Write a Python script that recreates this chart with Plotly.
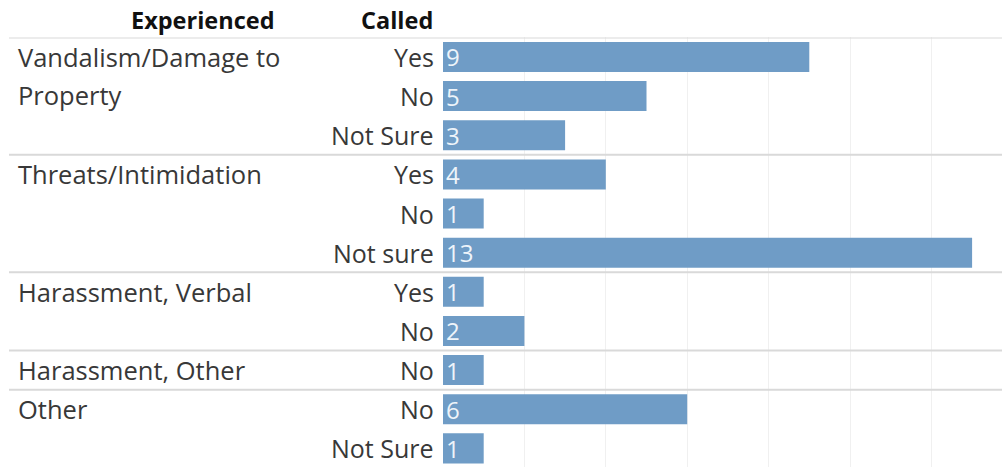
import plotly.graph_objects as go

# Data: counts per "Experienced" category, split by "Called"
experienced = [
    ["Vandalism/Damage to", "Property"],
    ["Threats/Intimidation"],
    ["Harassment, Verbal"],
    ["Harassment, Other"],
    ["Other"],
]
called = [
    ["Yes", "No", "Not Sure"],
    ["Yes", "No", "Not sure"],
    ["Yes", "No"],
    ["No"],
    ["No", "Not Sure"],
]
counts = [
    [9, 5, 3],
    [4, 1, 13],
    [1, 2],
    [1],
    [6, 1],
]

W, H = 1002, 467
PLOT_LEFT = 443
PLOT_TOP = 37.4
ROW_PX = 39.14
UNIT_PX = 40.7

FONT = "Open Sans"
TEXT_COLOR = "#383838"
BAR_COLOR = "#6f9cc6"
LINE_COLOR = "#d9d9d9"

# Flatten into rows
row_y, row_val, row_called = [], [], []
group_starts = []
i = 0
for g, (cl, vals) in enumerate(zip(called, counts)):
    group_starts.append(i)
    for c, v in zip(cl, vals):
        row_y.append(i)
        row_val.append(v)
        row_called.append(c)
        i += 1
n_rows = i

fig = go.Figure()
fig.add_trace(go.Bar(
    x=row_val,
    y=row_y,
    orientation="h",
    width=0.767,
    marker=dict(color=BAR_COLOR, line=dict(width=0)),
    text=[str(v) for v in row_val],
    textposition="inside",
    insidetextanchor="start",
    textangle=0,
    textfont=dict(family=FONT, size=24, color="#eef4fa"),
    constraintext="none",
    hoverinfo="skip",
))

annotations = []
# Header
annotations.append(dict(text="<b>Experienced</b>", x=277 / W, y=1 - 20 / H, xref="paper", yref="paper",
                        xanchor="right", yanchor="middle", showarrow=False,
                        font=dict(family=FONT, size=23.5, color="#111111")))
annotations.append(dict(text="<b>Called</b>", x=435 / W, y=1 - 20 / H, xref="paper", yref="paper",
                        xanchor="right", yanchor="middle", showarrow=False,
                        font=dict(family=FONT, size=23.5, color="#111111")))

# "Called" row labels
for y, c in zip(row_y, row_called):
    annotations.append(dict(text=c, x=436 / W, y=y, xref="paper", yref="y",
                            xanchor="right", yanchor="middle", showarrow=False,
                            font=dict(family=FONT, size=25, color=TEXT_COLOR)))

# "Experienced" group labels (wrapped lines)
for start, lines in zip(group_starts, experienced):
    for k, line in enumerate(lines):
        annotations.append(dict(text=line, x=16 / W, y=start + k * 0.97, xref="paper", yref="y",
                                xanchor="left", yanchor="middle", showarrow=False,
                                font=dict(family=FONT, size=25.5, color=TEXT_COLOR)))

# Horizontal separators between groups (and under the header)
shapes = []
for start in group_starts:
    shapes.append(dict(type="line", xref="paper", yref="y", x0=9 / W, x1=1,
                       y0=start - 0.5, y1=start - 0.5,
                       line=dict(color=LINE_COLOR, width=2), layer="above"))

fig.update_layout(
    width=W, height=H,
    margin=dict(l=0, r=0, t=0, b=0),
    paper_bgcolor="white", plot_bgcolor="white",
    showlegend=False,
    annotations=annotations,
    shapes=shapes,
    xaxis=dict(domain=[PLOT_LEFT / W, 1], range=[0, (W - PLOT_LEFT) / UNIT_PX],
               showgrid=True, gridcolor="#f0f0f0", gridwidth=1, dtick=2, tick0=0,
               showticklabels=False, zeroline=False, showline=False, fixedrange=True),
    yaxis=dict(domain=[0, 1 - PLOT_TOP / H],
               range=[-0.5 + (H - PLOT_TOP) / ROW_PX, -0.5],
               showgrid=False, showticklabels=False, zeroline=False, showline=False, fixedrange=True),
)

fig.write_html("out.html", config={"displayModeBar": False})
